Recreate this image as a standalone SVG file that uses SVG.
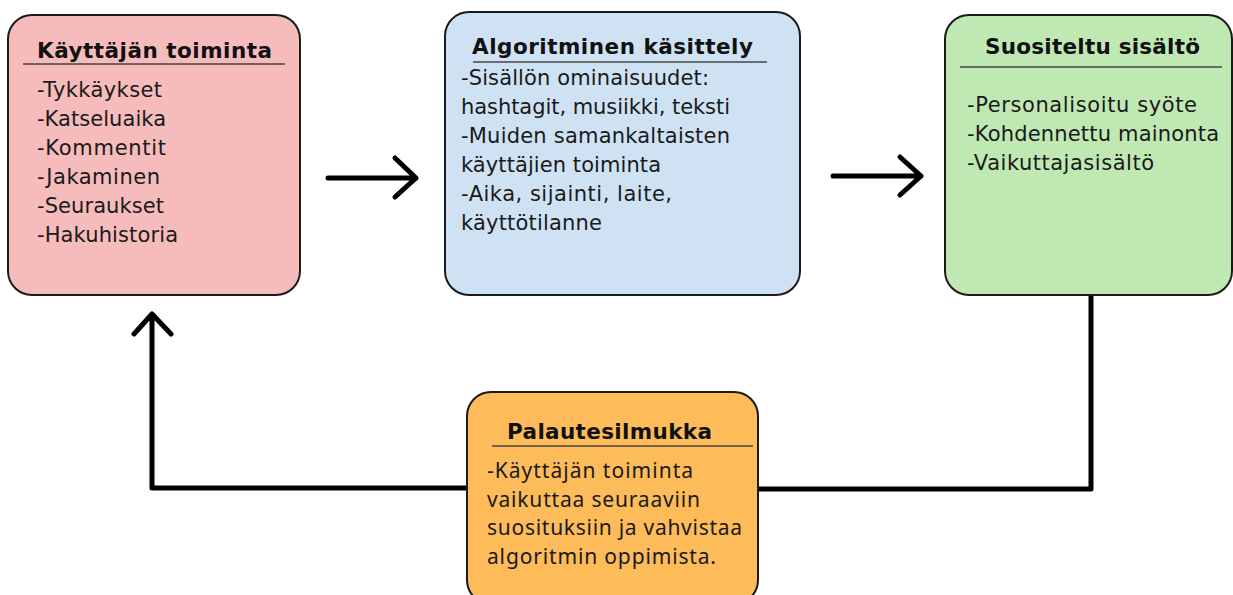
<svg xmlns="http://www.w3.org/2000/svg" width="1233" height="595" viewBox="0 0 1233 595">
<style>
.box{stroke:#1a1a1a;stroke-width:2}
.title{font-family:"DejaVu Sans","Liberation Sans",sans-serif;font-weight:700;font-size:21.5px;fill:#111}
.body{font-family:"DejaVu Sans","Liberation Sans",sans-serif;font-size:21px;fill:#1a1a1a}
.body2{font-family:"Noto Sans","Liberation Sans",sans-serif;font-size:21px;fill:#1a1a1a}
.rule{stroke:#444;stroke-width:1.5}
.conn{fill:none;stroke:#000;stroke-width:5;stroke-linecap:round;stroke-linejoin:round}
</style>
<rect width="1233" height="595" fill="#fff"/>
<g id="connectors">
<path class="conn" d="M328 178 H416 M395 158 L416 178 L395 197"/>
<path class="conn" d="M833 176 H921 M900 157 L921 176 L900 195"/>
<path class="conn" d="M1091 296 V489 H758" stroke-linecap="butt"/>
<path class="conn" d="M467 488 H152 V314 M134 334 L152 314 L171 334"/>
</g>
<g id="user-activity">
<rect class="box" x="8" y="15" width="292" height="280" rx="24" fill="#f6bbbb"/>
<text class="title" x="37" y="58" textLength="235">Käyttäjän toiminta</text>
<line class="rule" x1="23" y1="64" x2="285" y2="64"/>
<text class="body" x="37" y="97" textLength="125">-Tykkäykset</text>
<text class="body" x="37" y="126" textLength="129">-Katseluaika</text>
<text class="body" x="37" y="155" textLength="129">-Kommentit</text>
<text class="body" x="37" y="184" textLength="123">-Jakaminen</text>
<text class="body" x="37" y="213" textLength="127">-Seuraukset</text>
<text class="body" x="37" y="242" textLength="141">-Hakuhistoria</text>
</g>
<g id="algorithmic-processing">
<rect class="box" x="445" y="12" width="355" height="283" rx="24" fill="#cfe2f3"/>
<text class="title" x="472" y="54" textLength="281">Algoritminen käsittely</text>
<line class="rule" x1="473" y1="62" x2="767" y2="62"/>
<text class="body" x="461" y="85" textLength="248">-Sisällön ominaisuudet:</text>
<text class="body" x="461" y="114" textLength="269">hashtagit, musiikki, teksti</text>
<text class="body" x="461" y="143" textLength="269">-Muiden samankaltaisten</text>
<text class="body" x="461" y="172" textLength="200">käyttäjien toiminta</text>
<text class="body" x="461" y="201" textLength="211">-Aika, sijainti, laite,</text>
<text class="body" x="461" y="230" textLength="141">käyttötilanne</text>
</g>
<g id="recommended-content">
<rect class="box" x="945" y="15" width="287" height="280" rx="24" fill="#c0e8b3"/>
<text class="title" x="985" y="54" textLength="215">Suositeltu sisältö</text>
<line class="rule" x1="960" y1="67" x2="1222" y2="67"/>
<text class="body" x="967" y="112" textLength="230">-Personalisoitu syöte</text>
<text class="body" x="967" y="141" textLength="252">-Kohdennettu mainonta</text>
<text class="body" x="967" y="170" textLength="187">-Vaikuttajasisältö</text>
</g>
<g id="feedback-loop">
<rect class="box" x="467" y="392" width="291" height="212" rx="24" fill="#fdbb59"/>
<text class="title" x="507" y="439" textLength="205">Palautesilmukka</text>
<line class="rule" x1="492" y1="446" x2="753" y2="446" stroke="#6b5020"/>
<text class="body2" x="487" y="478" textLength="206">-Käyttäjän toiminta</text>
<text class="body2" x="487" y="507" textLength="213">vaikuttaa seuraaviin</text>
<text class="body2" x="487" y="535" textLength="255">suosituksiin ja vahvistaa</text>
<text class="body2" x="487" y="564" textLength="229">algoritmin oppimista.</text>
</g>
</svg>
